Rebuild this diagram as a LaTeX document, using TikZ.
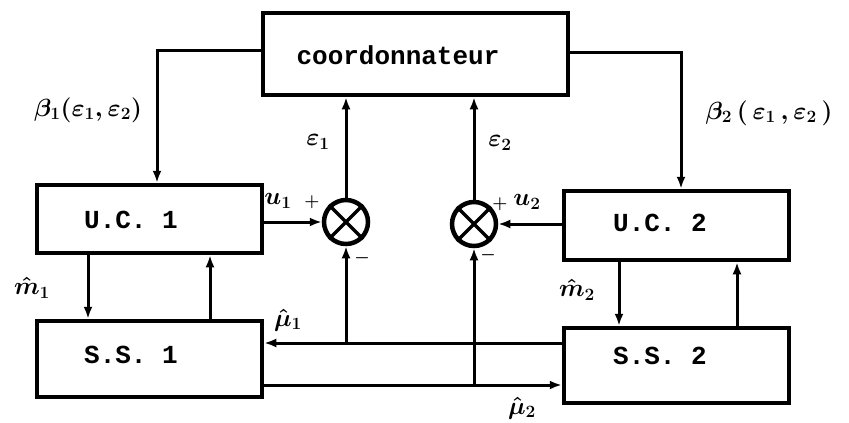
\documentclass[tikz,border=0pt]{standalone}
\usepackage{fontspec}
\setmonofont{Liberation Mono}
\usetikzlibrary{arrows.meta}
\begin{document}
\begin{tikzpicture}[x=1pt,y=-1pt,
 blk/.style={draw, line width=4.5pt, inner sep=0pt, rectangle},
 lbl/.style={font=\fontsize{26}{30}\selectfont\ttfamily\bfseries, inner sep=0pt},
 hand/.style={font=\fontsize{26}{30}\selectfont\boldmath, inner sep=0pt},
 sgn/.style={font=\fontsize{17}{18}\selectfont\boldmath, inner sep=0pt},
 arr/.style={line width=3pt, -{Latex[length=12pt,width=9pt]}},
 sumnode/.style={draw, circle, line width=4.5pt, minimum size=44pt, inner sep=0pt}]
\useasboundingbox (0,0) rectangle (849,423);

% boxes
\node[blk, minimum width=305pt, minimum height=82pt] (coord) at (415.5,54) {};
\node[blk, minimum width=225pt, minimum height=68pt] (uc1) at (149.5,219) {};
\node[blk, minimum width=225pt, minimum height=76pt] (ss1) at (149.5,359) {};
\node[blk, minimum width=225pt, minimum height=69pt] (uc2) at (676.5,225.5) {};
\node[blk, minimum width=225pt, minimum height=75pt] (ss2) at (676.5,365.5) {};

% box texts
\node[lbl] (tcoord) at (398,55) {coordonnateur};
\node[lbl] (tuc1) at (131,220) {U.C. 1};
\node[lbl] (tss1) at (131,355) {S.S. 1};
\node[lbl] (tuc2) at (660,223) {U.C. 2};
\node[lbl] (tss2) at (660,356) {S.S. 2};

% summing junctions
\node[sumnode] (c1) at (346,222) {};
\node[sumnode] (c2) at (474,224) {};
\draw[line width=3.5pt] (c1.45) -- (c1.225) (c1.135) -- (c1.315);
\draw[line width=3.5pt] (c2.45) -- (c2.225) (c2.135) -- (c2.315);

% coordinator outputs
\draw[arr] (coord.west |- 0,50) -| (uc1.north -| 157,0);
\draw[arr] (coord.east |- 0,52) -| (uc2.north -| 681,0);

% errors to coordinator
\draw[arr] (c1.north) -- (coord.south -| c1.north);
\draw[arr] (c2.north) -- (coord.south -| c2.north);

% u signals
\draw[arr] (uc1.east |- c1.west) -- (c1.west);
\draw[arr] (uc2.west |- c2.east) -- (c2.east);

% interconnections
\coordinate (j1) at (346,343);
\coordinate (j2) at (474,385);
\draw[arr] (j1) -- (c1.south);
\draw[arr] (j2) -- (c2.south);
\draw[arr] (ss2.west |- j1) -- (ss1.east |- j1);
\draw[arr] (ss1.east |- j2) -- (ss2.west |- j2);

% UC <-> SS
\draw[arr] (uc1.south -| 88,0) -- (ss1.north -| 88,0);
\draw[arr] (ss1.north -| 210,0) -- (uc1.south -| 210,0);
\draw[arr] (uc2.south -| 619,0) -- (ss2.north -| 619,0);
\draw[arr] (ss2.north -| 737,0) -- (uc2.south -| 737,0);

% labels
\node[hand] (lb1) at (88,110) {$\beta_1(\varepsilon_1,\varepsilon_2)$};
\node[hand] (lb2) at (769,113) {$\beta_2\,(\,\varepsilon_1\,,\varepsilon_2\,)$};
\node[hand] (le1) at (318,142) {$\varepsilon_1$};
\node[hand] (le2) at (500,143) {$\varepsilon_2$};
\node[hand] (lu1) at (278,201) {$u_1$};
\node[sgn] (p1) at (312,202) {$+$};
\node[sgn] (p2) at (500,204) {$+$};
\node[hand] (lu2) at (527,202) {$u_2$};
\node[sgn] (m1s) at (362,258) {$-$};
\node[sgn] (m2s) at (488,255) {$-$};
\node[hand] (lm1) at (32,288) {$\hat{m}_1$};
\node[hand] (lm2) at (577,290) {$\hat{m}_2$};
\node[hand] (lmu1) at (288,320) {$\hat{\mu}_1$};
\node[hand] (lmu2) at (522,408) {$\hat{\mu}_2$};
\end{tikzpicture}
\end{document}
